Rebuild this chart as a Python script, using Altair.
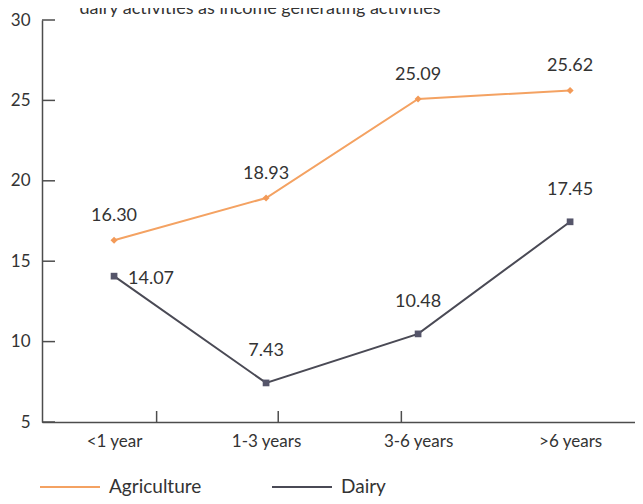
import json
import altair as alt
import pandas as pd

categories = ["<1 year", "1-3 years", "3-6 years", ">6 years"]
agriculture = [16.30, 18.93, 25.09, 25.62]
dairy = [14.07, 7.43, 10.48, 17.45]
series_names = ["Agriculture", "Dairy"]
series_colors = ["#F4A262", "#4A4A55"]
y_ticks = [5, 10, 15, 20, 25, 30]
x_tick_marks = [0.28, 1.08, 1.89]
title_text = "dairy activities as income generating activities"

rows = []
for i, c in enumerate(categories):
    rows.append({"idx": i, "category": c, "series": "Agriculture", "value": agriculture[i],
                 "label": f"{agriculture[i]:.2f}"})
    rows.append({"idx": i, "category": c, "series": "Dairy", "value": dairy[i],
                 "label": f"{dairy[i]:.2f}"})
df = pd.DataFrame(rows)
ticks_df = pd.DataFrame({"value": y_ticks})
xticks_df = pd.DataFrame({"b": x_tick_marks})
title_df = pd.DataFrame({"t": [title_text]})

FONT = "Lato"
AX = "#4d4d4d"
TXT = "#333333"

x_scale = alt.Scale(domain=[-0.474, 3.427], nice=False, zero=False)
y_scale = alt.Scale(domain=[5, 30], nice=False, zero=False)

x_axis = alt.Axis(values=list(range(len(categories))),
                  labelExpr=f"{json.dumps(categories)}[datum.value]",
                  ticks=False, grid=False, title=None,
                  domainColor=AX, domainWidth=1.5,
                  labelFontSize=17, labelPadding=11, labelColor=TXT,
                  labelFont=FONT)
y_axis = alt.Axis(values=y_ticks, ticks=False, grid=False, title=None,
                  domainColor=AX, domainWidth=1.5,
                  labelFontSize=17, labelPadding=12, labelColor=TXT,
                  labelFont=FONT)

x_enc = alt.X("idx:Q", scale=x_scale, axis=x_axis)
y_enc = alt.Y("value:Q", scale=y_scale, axis=y_axis)

base = alt.Chart(df)

lines = base.mark_line(strokeWidth=2).encode(
    x=x_enc, y=y_enc,
    color=alt.Color("series:N",
                    scale=alt.Scale(domain=series_names, range=series_colors),
                    legend=alt.Legend(orient="none", direction="horizontal",
                                      legendX=-3, legendY=436, title=None,
                                      symbolType="stroke", symbolSize=3600,
                                      symbolStrokeWidth=2, labelFontSize=19,
                                      labelFont=FONT, labelColor=TXT,
                                      labelOffset=8, columnPadding=66)),
)

pts_agri = base.transform_filter(alt.datum.series == "Agriculture").mark_point(
    shape="diamond", filled=True, size=50, color="#F39A58", opacity=1
).encode(x=x_enc, y=y_enc)

pts_dairy = base.transform_filter(alt.datum.series == "Dairy").mark_point(
    shape="square", filled=True, size=45, color="#55556A", opacity=1
).encode(x=x_enc, y=y_enc)

lab_agri = base.transform_filter(alt.datum.series == "Agriculture").mark_text(
    fontSize=18, font=FONT, color=TXT, dy=-24, baseline="middle"
).encode(x=x_enc, y=y_enc, text="label:N")

lab_dairy = base.transform_filter(
    (alt.datum.series == "Dairy") & (alt.datum.idx > 0)
).mark_text(
    fontSize=18, font=FONT, color=TXT, dy=-32, baseline="middle"
).encode(x=x_enc, y=y_enc, text="label:N")

lab_dairy0 = base.transform_filter(
    (alt.datum.series == "Dairy") & (alt.datum.idx == 0)
).mark_text(
    fontSize=18, font=FONT, color=TXT, dx=14, dy=3, align="left", baseline="middle"
).encode(x=x_enc, y=y_enc, text="label:N")

y_tick_rules = alt.Chart(ticks_df).mark_rule(color=AX, strokeWidth=1.5).encode(
    y=y_enc,
    x=alt.value(0), x2=alt.value(13),
)

x_tick_rules = alt.Chart(xticks_df).mark_rule(color=AX, strokeWidth=1.5).encode(
    x=alt.X("b:Q", scale=x_scale, axis=x_axis),
    y=alt.value(402), y2=alt.value(391),
)

title_mark = alt.Chart(title_df).mark_text(
    fontSize=18, font=FONT, color=TXT, align="center", baseline="alphabetic"
).encode(text="t:N", x=alt.value(218), y=alt.value(-6))

chart = alt.layer(
    lines, y_tick_rules, x_tick_rules, pts_agri, pts_dairy, lab_agri, lab_dairy, lab_dairy0,
    title_mark
).properties(
    width=593, height=402,
    padding={"left": 34, "top": 12, "right": 0, "bottom": 74},
    autosize=alt.AutoSizeParams(type="none"),
    background="white",
).configure(font=FONT).configure_view(stroke=None)

chart.save("out.html", embed_options={"renderer": "svg", "actions": False})
